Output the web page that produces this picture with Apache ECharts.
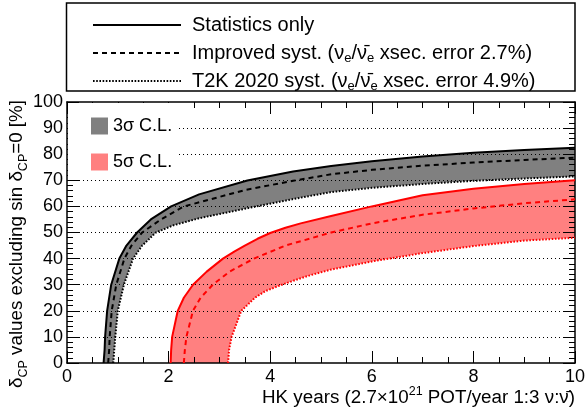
<!DOCTYPE html>
<html>
<head>
<meta charset="utf-8">
<script src="https://cdn.jsdelivr.net/npm/echarts@6/dist/echarts.min.js"></script>
<style>
  html, body { margin: 0; padding: 0; background: #fff; }
  #chart { width: 586px; height: 411px; }
</style>
</head>
<body>
<div id="chart"></div>
<script>
const FONT = '"Liberation Sans", Arial, Helvetica, sans-serif';

// Axis ticks
const xTicks = [0, 2, 4, 6, 8, 10];
const yTicks = [0, 10, 20, 30, 40, 50, 60, 70, 80, 90, 100];

// 3 sigma exclusion: HK years -> fraction of delta_CP values excluded [%]
const sig3StatX = [0.72, 0.74, 0.75, 0.79, 0.87, 1.03, 1.17, 1.38, 1.65, 2.05, 2.6, 3.55, 4.45, 5.2, 6, 7, 8, 9, 10];
const sig3StatY = [0, 5, 10, 20, 30, 40, 45, 50, 55, 60, 64.6, 69.9, 73.4, 75.5, 77.3, 79.1, 80.6, 81.6, 82.5];
const sig3ImprX = [0.81, 0.83, 0.84, 0.88, 0.97, 1.13, 1.27, 1.48, 1.85, 2.3, 2.61, 3.53, 4.45, 5.2, 6, 7, 8, 9, 10];
const sig3ImprY = [0, 5, 10, 20, 30, 40, 45, 50, 55, 60, 61.6, 66.4, 69.8, 72.3, 74.0, 75.6, 76.8, 77.8, 78.7];
const sig3T2KX  = [0.91, 0.93, 0.95, 1.0, 1.12, 1.3, 1.48, 1.75, 2.1, 2.61, 3.6, 4.45, 5.2, 6, 7, 8, 9, 10];
const sig3T2KY  = [0, 5, 10, 20, 30, 40, 45, 50, 52.8, 55.5, 59.5, 62.8, 65.5, 67.1, 68.6, 69.8, 70.7, 71.5];

// 5 sigma exclusion
const sig5StatX = [2.04, 2.05, 2.07, 2.18, 2.3, 2.48, 2.75, 3.07, 3.3, 3.5, 3.75, 4.0, 4.3, 4.6, 5.2, 6, 7, 8, 9, 10];
const sig5StatY = [0, 5, 10, 20, 25, 30, 35, 40, 42.8, 45, 47.6, 49.8, 51.8, 53.5, 56.3, 60, 64.3, 66.8, 68.6, 70];
const sig5ImprX = [2.3, 2.32, 2.35, 2.48, 2.63, 2.87, 3.2, 3.68, 4.3, 5.2, 6, 7, 8, 9, 10];
const sig5ImprY = [0, 5, 10, 20, 25, 30, 35, 40, 45, 50, 53.5, 56.8, 59.2, 61.2, 62.7];
const sig5T2KX  = [3.17, 3.19, 3.24, 3.43, 3.7, 3.9, 4.2, 4.5, 4.8, 5.2, 6, 7, 8, 9, 10];
const sig5T2KY  = [0, 5, 10, 20, 25, 27.5, 29.8, 31.8, 33.7, 35.8, 38.9, 42.1, 44.8, 46.9, 48];

const pairs = (xs, ys) => xs.map((x, i) => [x, ys[i]]);

const GREY = '#808080';
const PINK = '#ff8080';
const RED = '#ff0000';
const SOLID = 'solid';
const DASHED = [5, 4];
const DOTTED = [1.6, 1.6];

// Filled band between the stats-only edge and the T2K 2020 syst. edge
function band(name, color, upX, upY, loX, loY) {
  const pts = pairs(upX, upY).concat(pairs(loX, loY).reverse());
  return {
    type: 'custom', name, coordinateSystem: 'cartesian2d',
    xAxisIndex: 0, yAxisIndex: 0, z: -1, silent: true,
    itemStyle: { color },
    data: [pts[0]],
    renderItem: (params, api) => ({
      type: 'polygon',
      shape: { points: pts.map(p => api.coord(p)) },
      style: { fill: color }
    })
  };
}

function curve(name, color, type, xs, ys) {
  return {
    type: 'line', name, xAxisIndex: 0, yAxisIndex: 0, z: 3, silent: true,
    data: pairs(xs, ys), symbol: 'none', showSymbol: false,
    itemStyle: { color },
    lineStyle: { color, width: 2, type }
  };
}

const LEG_STAT = 'Statistics only';
const LEG_IMPR = 'Improved syst.';
const LEG_T2K = 'T2K 2020 syst.';
const LEG_3S = '3σ C.L.';
const LEG_5S = '5σ C.L.';

const legendText = {
  [LEG_STAT]: 'Statistics only',
  [LEG_IMPR]: 'Improved syst. (ν{s|e}/ν̄{s|e} xsec. error 2.7%)',
  [LEG_T2K]: 'T2K 2020 syst. (ν{s|e}/ν̄{s|e} xsec. error 4.9%)'
};

const X_TITLE = 'HK years (2.7×10{sup|21} POT/year 1:3 ν:ν̄)';
const Y_TITLE = 'δ{s|CP} values excluding sin δ{s|CP}=0 [%]';

const tickStyle = { color: '#000', width: 1 };
const TITLE_SIZE = 18.8;

function xAxis(pos, withLabels) {
  return {
    type: 'value', position: pos, min: xTicks[0], max: xTicks[xTicks.length - 1],
    interval: xTicks[1] - xTicks[0],
    axisLine: { show: true, onZero: false, lineStyle: { color: '#000', width: 1.5 } },
    axisTick: { show: true, inside: true, length: 12, lineStyle: tickStyle },
    minorTick: { show: true, splitNumber: 4, length: 6, lineStyle: tickStyle },
    axisLabel: { show: withLabels, color: '#000', fontSize: 18, fontFamily: FONT, margin: 5 },
    splitLine: { show: false }
  };
}

function yAxis(pos, withLabels) {
  return {
    type: 'value', position: pos, min: yTicks[0], max: yTicks[yTicks.length - 1],
    interval: yTicks[1] - yTicks[0],
    axisLine: { show: true, onZero: false, lineStyle: { color: '#000', width: 1.5 } },
    axisTick: { show: true, inside: true, length: 12, lineStyle: tickStyle },
    minorTick: { show: true, splitNumber: 5, length: 6, lineStyle: tickStyle },
    axisLabel: { show: withLabels, color: '#000', fontSize: 18, fontFamily: FONT, margin: 4 },
    splitLine: withLabels
      ? { show: true, showMinLine: false, showMaxLine: false, lineStyle: { color: '#000', width: 1, type: [1, 3] } }
      : { show: false }
  };
}

const chart = echarts.init(document.getElementById('chart'), null, { renderer: 'canvas' });

chart.setOption({
  animation: false,
  backgroundColor: '#fff',
  grid: { left: 67, right: 11, top: 102, bottom: 48, containLabel: false, outerBoundsMode: 'none' },
  xAxis: [xAxis('bottom', true), xAxis('top', false)],
  yAxis: [yAxis('left', true), yAxis('right', false)],
  graphic: [{
    type: 'rect', z: 1,
    shape: { x: 66.5, y: 3, width: 508.5, height: 88 },
    style: { fill: '#fff', stroke: '#000', lineWidth: 1.5 }
  }, {
    // x-axis title, right-aligned under the frame
    type: 'text', z: 5, x: 575, y: 398,
    style: {
      text: X_TITLE, align: 'right', verticalAlign: 'middle',
      fill: '#000', fontSize: TITLE_SIZE, fontFamily: FONT, lineHeight: 26,
      rich: { sup: { fontSize: 12.5, fontFamily: FONT, fill: '#000', verticalAlign: 'top', lineHeight: 12 } }
    }
  }, {
    // y-axis title, reading upwards, ending at the top of the frame
    type: 'text', z: 5, x: 17, y: 100, rotation: Math.PI / 2,
    style: {
      text: Y_TITLE, align: 'right', verticalAlign: 'middle',
      fill: '#000', fontSize: TITLE_SIZE, fontFamily: FONT, lineHeight: 26,
      rich: { s: { fontSize: 12.5, fontFamily: FONT, fill: '#000', verticalAlign: 'bottom', lineHeight: 12 } }
    }
  }],
  legend: [{
    orient: 'vertical', left: 87, top: 8, z: 5,
    itemWidth: 88, itemHeight: 14, itemGap: 4,
    data: [LEG_STAT, LEG_IMPR, LEG_T2K],
    selectedMode: false,
    itemStyle: { opacity: 0, borderWidth: 0 },
    formatter: n => legendText[n],
    textStyle: {
      color: '#000', fontSize: 20, fontFamily: FONT, padding: [0, 0, 0, 6], lineHeight: 24,
      rich: { s: { fontSize: 13, fontFamily: FONT, color: '#000', verticalAlign: 'bottom', lineHeight: 13 } }
    }
  }, {
    orient: 'vertical', left: 68, top: 103, z: 5,
    icon: 'rect', itemWidth: 17, itemHeight: 17, itemGap: 18,
    backgroundColor: '#fff', padding: [14, 6, 6, 23],
    data: [LEG_3S, LEG_5S],
    selectedMode: false,
    textStyle: { color: '#000', fontSize: 18, fontFamily: FONT }
  }],
  series: [
    band(LEG_3S, GREY, sig3StatX, sig3StatY, sig3T2KX, sig3T2KY),
    band(LEG_5S, PINK, sig5StatX, sig5StatY, sig5T2KX, sig5T2KY),
    curve(LEG_STAT, '#000', SOLID, sig3StatX, sig3StatY),
    curve(LEG_IMPR, '#000', DASHED, sig3ImprX, sig3ImprY),
    curve(LEG_T2K, '#000', DOTTED, sig3T2KX, sig3T2KY),
    curve('5σ stat', RED, SOLID, sig5StatX, sig5StatY),
    curve('5σ improved', RED, DASHED, sig5ImprX, sig5ImprY),
    curve('5σ T2K 2020', RED, DOTTED, sig5T2KX, sig5T2KY)
  ]
});
</script>
</body>
</html>
